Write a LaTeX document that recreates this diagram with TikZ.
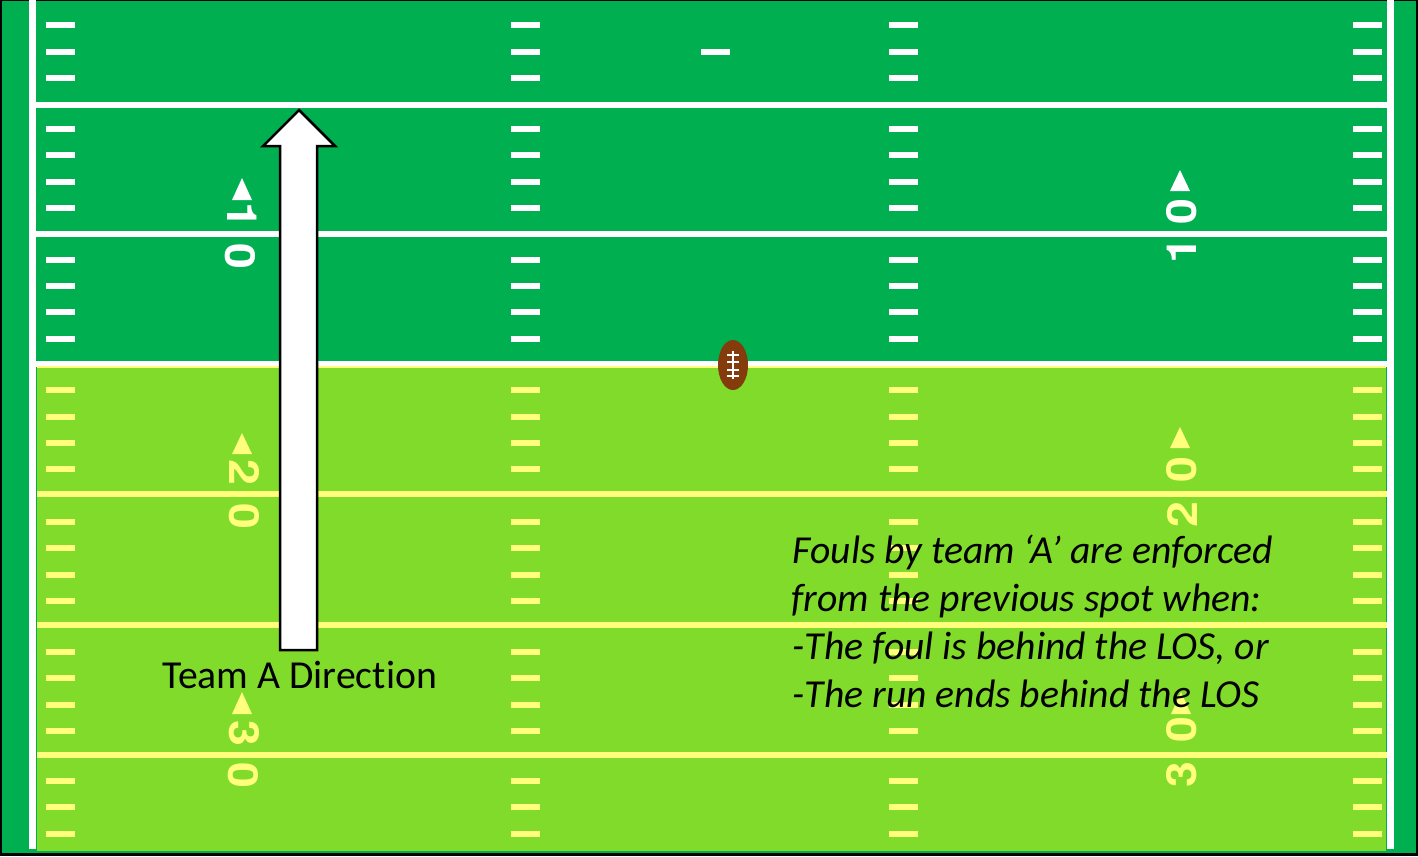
\documentclass[tikz,border=0pt]{standalone}
\usepackage{fontspec}
\setmainfont[Ligatures=NoCommon]{Carlito}
\newfontfamily\digitfont[FakeStretch=1.12]{TeX Gyre Heros}
\definecolor{fieldgreen}{HTML}{00B050}
\definecolor{lightfield}{HTML}{80DB2A}
\definecolor{lineyellow}{HTML}{FFFF7D}
\definecolor{ballbrown}{HTML}{843C0C}
\tikzset{
  yardwhite/.style={draw=white,line width=0.06cm},
  yardyellow/.style={draw=lineyellow,line width=0.06cm},
  hashmark/.style={line width=0.065cm},
  digit/.style={font=\fontsize{11.8pt}{12pt}\selectfont\digitfont\bfseries,inner sep=0pt},
  caption/.style={font=\fontsize{11.28pt}{13.5pt}\selectfont,text=black,inner sep=0pt},
}
\newcommand{\hashes}[2]{%
  \foreach \hy in {#2}{
    \foreach \hx in {46,511,889,1353}{
      \draw[hashmark,draw=#1] (\hx,\hy) -- ++(29,0);
    }
  }
}
\begin{document}
\begin{tikzpicture}[x=0.01cm,y=-0.01cm]
\useasboundingbox (0,0) rectangle (1418,856);
% field
\fill[black] (0,0) rectangle (1418,856);
\fill[fieldgreen] (2,1) rectangle (1416,853);
\fill[lightfield] (37,366) rectangle (1386,851);
% sidelines
\fill[white] (29,0) rectangle (36,849);
\fill[white] (1387,0) rectangle (1394,849);
% yard lines
\draw[yardwhite] (36,104.5) -- (1387,104.5);
\draw[yardwhite] (36,233.5) -- (1387,233.5);
\draw[yardwhite] (36,364) -- (1387,364);
\draw[draw=lineyellow,line width=0.02cm] (37,367) -- (1386,367);
\draw[yardyellow] (37,494) -- (1387,494);
\draw[yardyellow] (37,625) -- (1387,625);
\draw[yardyellow] (37,755) -- (1387,755);
% hash marks
\hashes{white}{25,52,78,129,155,182,208,260,286,312,339}
\hashes{lineyellow}{390,417,443,469,522,548,575,601,652,678,705,731,781,807,834}
\draw[hashmark,draw=white] (701,52) -- (730,52);
% arrow heads on numbers
\fill[white] (242,178) -- (252,200) -- (232,200) -- cycle;
\fill[white] (1180,170) -- (1190,191) -- (1170,191) -- cycle;
\fill[lineyellow] (242,433) -- (252,454) -- (232,454) -- cycle;
\fill[lineyellow] (1180,427) -- (1190,448) -- (1170,448) -- cycle;
\fill[lineyellow] (242,692) -- (252,714) -- (232,714) -- cycle;
\fill[lineyellow] (1181,692) -- (1191,714) -- (1171,714) -- cycle;
% numbers
\node[digit,text=white,rotate=-90] (l1) at (242,215) {1};
\node[digit,text=white,rotate=-90] (l0) at (240,256) {0};
\node[digit,text=white,rotate=90] (r0) at (1182,212) {0};
\node[digit,text=white,rotate=90] (r1) at (1182,251) {1};
\node[digit,text=lineyellow,rotate=-90] (l2) at (245,472) {2};
\node[digit,text=lineyellow,rotate=-90] (l00) at (244,516) {0};
\node[digit,text=lineyellow,rotate=90] (r00) at (1182,470) {0};
\node[digit,text=lineyellow,rotate=90] (r2) at (1182,515) {2};
\node[digit,text=lineyellow,rotate=-90] (l3) at (244,733) {3};
\node[digit,text=lineyellow,rotate=-90] (l000) at (243,775) {0};
\node[digit,text=lineyellow,rotate=90] (r000) at (1182,730) {0};
\node[digit,text=lineyellow,rotate=90] (r3) at (1182,775) {3};
% ball
\fill[ballbrown] (733,365) ellipse [x radius=15,y radius=25];
\draw[white,line width=0.025cm] (733,351) -- (733,379);
\foreach \ly in {355,362,370,376}{
  \draw[white,line width=0.02cm] (727,\ly) -- (739,\ly);
}
% direction arrow
\draw[black,fill=white,line width=0.025cm,line join=miter]
  (299,110) -- (335,146) -- (317,146) -- (317,650) -- (280,650) -- (280,146) -- (263,146) -- cycle;
% texts
\node[caption] (teamdir) at (299.5,674.5) {Team A Direction};
\node[caption,anchor=west] (foul1) at (792,552) {\itshape Fouls by team ‘A’ are enforced};
\node[caption,anchor=west] (foul2) at (791,601) {\itshape from the previous spot when:};
\node[caption,anchor=west] (foul3) at (792,648) {\itshape -The foul is behind the LOS, or};
\node[caption,anchor=west] (foul4) at (792,694) {\itshape -The run ends behind the LOS};
\end{tikzpicture}
\end{document}
